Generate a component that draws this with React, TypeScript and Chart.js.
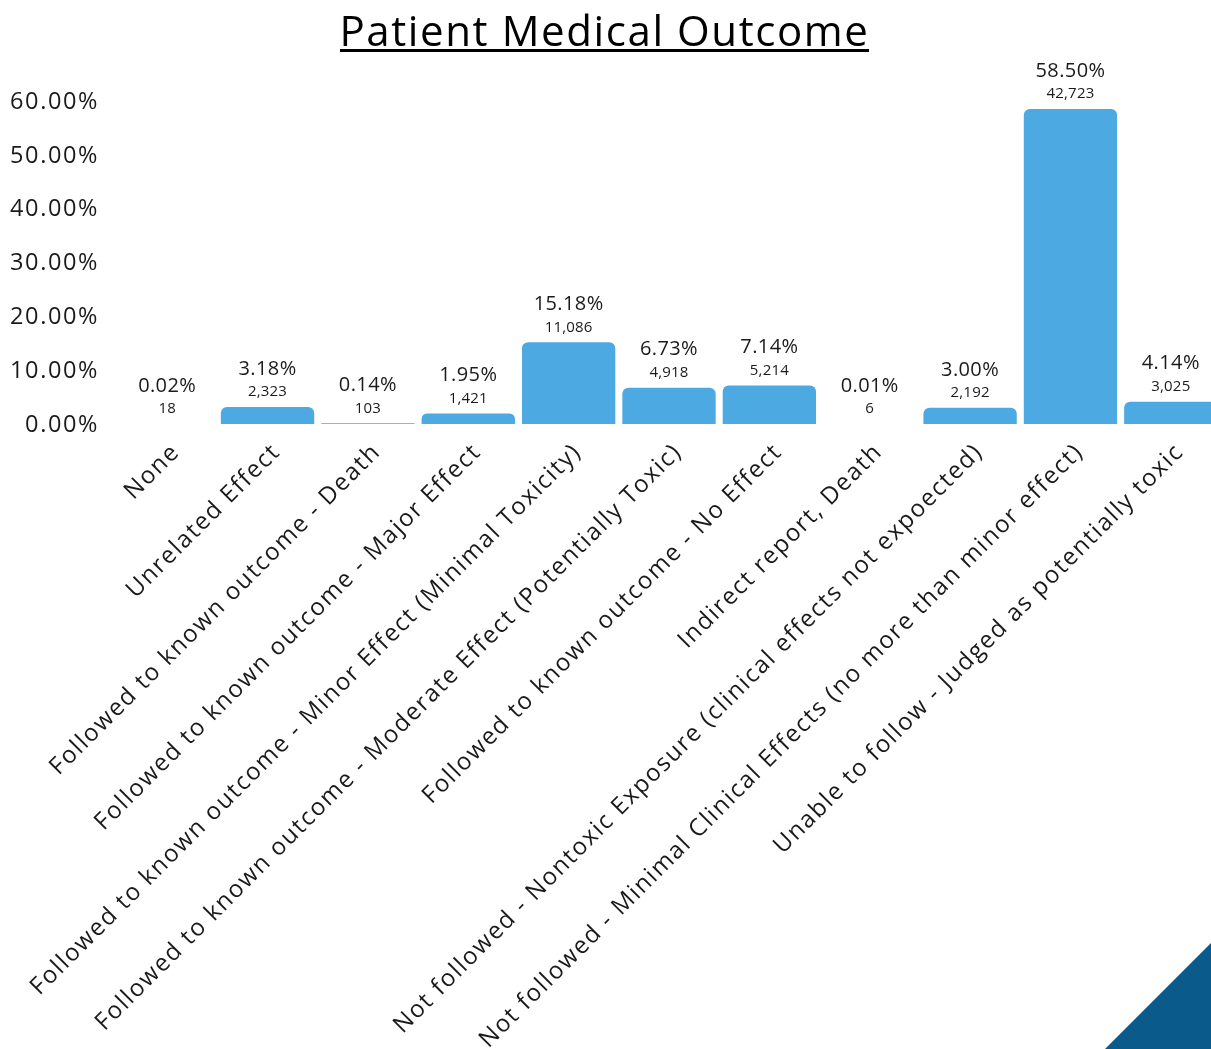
import React, { useEffect, useRef } from "react";
import { Chart, registerables } from "chart.js";

Chart.register(...registerables);

const categories = [
  "None",
  "Unrelated Effect",
  "Followed to known outcome - Death",
  "Followed to known outcome - Major Effect",
  "Followed to known outcome - Minor Effect (Minimal Toxicity)",
  "Followed to known outcome - Moderate Effect (Potentially Toxic)",
  "Followed to known outcome - No Effect",
  "Indirect report, Death",
  "Not followed - Nontoxic Exposure (clinical effects not expoected)",
  "Not followed - Minimal Clinical Effects (no more than minor effect)",
  "Unable to follow - Judged as potentially toxic",
];
const percents = [0.02, 3.18, 0.14, 1.95, 15.18, 6.73, 7.14, 0.01, 3.0, 58.5, 4.14];
const counts = [18, 2323, 103, 1421, 11086, 4918, 5214, 6, 2192, 42723, 3025];
const yTicks = [0, 10, 20, 30, 40, 50, 60];

const FONT = "'Open Sans', sans-serif";
const TEXT = "#1a1a1a";
const BAR = "#4ca9e1";
const SPACING = "1.6px";

const W = 1221;
const H = 1049;

const decorPlugin = {
  id: "decor",
  beforeLayout(chart: any) {
    chart.ctx.letterSpacing = SPACING;
  },
  beforeDraw(chart: any) {
    chart.ctx.letterSpacing = SPACING;
  },
  afterDraw(chart: any) {
    const ctx = chart.ctx;
    ctx.save();
    // title
    const title = "Patient Medical Outcome";
    ctx.font = `42px ${FONT}`;
    ctx.letterSpacing = "1.6px";
    ctx.fillStyle = "#000";
    ctx.textAlign = "center";
    ctx.textBaseline = "alphabetic";
    const cx = 604.5;
    ctx.fillText(title, cx, 46);
    const tw = 529;
    ctx.fillRect(cx - tw / 2, 49, tw, 3);
    // triangle
    ctx.fillStyle = "#0b5a8c";
    ctx.beginPath();
    ctx.moveTo(1105, H);
    ctx.lineTo(1211, 943);
    ctx.lineTo(1211, H);
    ctx.closePath();
    ctx.fill();
    ctx.restore();
  },
  afterDatasetsDraw(chart: any) {
    const ctx = chart.ctx;
    const meta = chart.getDatasetMeta(0);
    ctx.save();
    ctx.fillStyle = TEXT;
    ctx.textAlign = "center";
    ctx.textBaseline = "middle";
    meta.data.forEach((el: any, i: number) => {
      ctx.letterSpacing = "0.4px";
      ctx.font = `20px ${FONT}`;
      ctx.fillText(percents[i].toFixed(2) + "%", el.x, el.y - 38);
      ctx.letterSpacing = "0.2px";
      ctx.font = `15px ${FONT}`;
      ctx.fillText(counts[i].toLocaleString("en-US"), el.x, el.y - 15);
    });
    ctx.restore();
  },
};

export default function App() {
  const ref = useRef<HTMLCanvasElement>(null);
  useEffect(() => {
    if (!ref.current) return;
    const chart = new Chart(ref.current, {
      type: "bar",
      data: {
        labels: categories,
        datasets: [
          {
            data: percents,
            backgroundColor: BAR,
            borderRadius: 6,
            borderSkipped: "bottom",
            categoryPercentage: 1,
            barPercentage: 0.93,
          },
        ],
      },
      options: {
        responsive: false,
        animation: false,
        devicePixelRatio: 1,
        layout: { padding: { top: 101, left: 8, right: 0, bottom: 0 } },
        plugins: { legend: { display: false }, tooltip: { enabled: false } },
        scales: {
          y: {
            min: 0,
            max: 60,
            afterBuildTicks(scale: any) {
              scale.ticks = yTicks.map((v) => ({ value: v }));
            },
            afterFit(scale: any) {
              scale.width = 109;
            },
            grid: { display: false, drawTicks: false },
            border: { display: false },
            ticks: {
              padding: 18,
              labelOffset: 1,
              color: TEXT,
              font: { family: FONT, size: 23.5 },
              callback: (v: any) => Number(v).toFixed(2) + "%",
            },
          },
          x: {
            afterFit(scale: any) {
              scale.height = H - 424;
            },
            grid: { display: false, drawTicks: false },
            border: { display: false },
            ticks: {
              autoSkip: false,
              maxRotation: 45,
              minRotation: 45,
              padding: 14,
              labelOffset: 9,
              color: TEXT,
              font: { family: FONT, size: 24 },
            },
          },
        },
      },
      plugins: [decorPlugin],
    });
    return () => chart.destroy();
  }, []);
  return (
    <div
      style={{
        position: "fixed",
        left: 0,
        top: 0,
        width: 1211,
        height: H,
        overflow: "hidden",
        background: "#fff",
      }}
    >
      <canvas ref={ref} width={W} height={H} style={{ display: "block" }} />
    </div>
  );
}
